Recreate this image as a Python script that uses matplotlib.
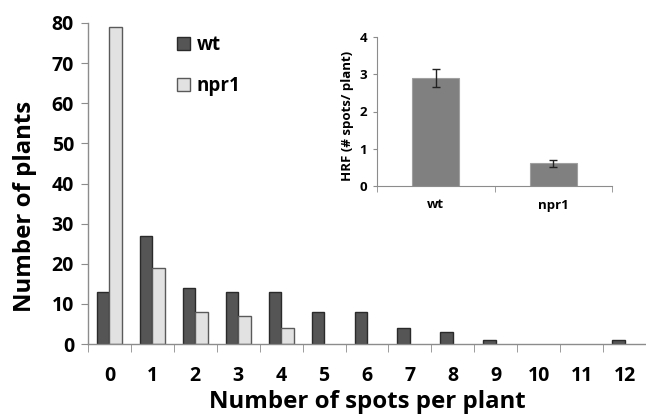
import matplotlib
matplotlib.use("Agg")
import matplotlib.pyplot as plt
import numpy as np
from matplotlib.patches import Patch
from matplotlib.ticker import FixedLocator

plt.rcParams['font.family'] = ['Open Sans', 'DejaVu Sans']
plt.rcParams['font.weight'] = 'bold'

# ---- data ----
spots = ['0', '1', '2', '3', '4', '5', '6', '7', '8', '9', '10', '11', '12']
wt_counts = [13, 27, 14, 13, 13, 8, 8, 4, 3, 1, 0, 0, 1]
npr1_counts = [79, 19, 8, 7, 4, 0, 0, 0, 0, 0, 0, 0, 0]

inset_labels = ['wt', 'npr1']
inset_hrf = [2.9, 0.61]
inset_err = [0.23, 0.1]

series_names = ['wt', 'npr1']

# ---- styles ----
wt_fill, wt_edge = '#555555', '#2a2a2a'
np_fill, np_edge = '#e2e2e2', '#5a5a5a'
spine_c = '#8c8c8c'

fig = plt.figure(figsize=(6.46, 4.17), dpi=100)
ax = fig.add_axes([88/646, 1-344/417, 1-88/646, (344-23)/417])

x = np.arange(len(spots))
w = 0.29
b1 = ax.bar(x - w/2, wt_counts, width=w, color=wt_fill, edgecolor=wt_edge, linewidth=1.0)
b2 = ax.bar(x + w/2, npr1_counts, width=w, color=np_fill, edgecolor=np_edge, linewidth=1.0)
for p in list(b1) + list(b2):
    if p.get_height() == 0:
        p.set_visible(False)

ax.set_xlim(-0.5, len(spots) - 0.5)
ax.set_ylim(0, 80)
ax.set_yticks(np.arange(0, 81, 10))
ax.set_xticks(x)
ax.set_xticklabels(spots)
ax.xaxis.set_minor_locator(FixedLocator(np.arange(-0.5, len(spots), 1.0)))
ax.tick_params(axis='x', which='major', length=0, labelsize=14, pad=16)
ax.tick_params(axis='x', which='minor', length=6, color=spine_c, direction='out')
ax.tick_params(axis='y', length=5, color=spine_c, labelsize=14, pad=5)
for s in ['top', 'right']:
    ax.spines[s].set_visible(False)
for s in ['left', 'bottom']:
    ax.spines[s].set_color(spine_c)
    ax.spines[s].set_linewidth(1.0)
for lab in ax.get_xticklabels() + ax.get_yticklabels():
    lab.set_fontweight('bold')

ax.set_xlabel('Number of spots per plant', fontsize=17.3, fontweight='bold', labelpad=3)
ax.set_ylabel('Number of plants', fontsize=17.3, fontweight='bold')
ax.yaxis.set_label_coords(-0.092, 0.43)

handles = [Patch(facecolor=wt_fill, edgecolor=wt_edge, linewidth=1.0),
           Patch(facecolor=np_fill, edgecolor=np_edge, linewidth=1.0)]
leg = ax.legend(handles, series_names, loc='upper left',
                bbox_to_anchor=((160-88)/558, 1.015), frameon=False,
                prop={'size': 13.5, 'weight': 'bold'},
                handlelength=0.7, handleheight=0.7, handletextpad=0.35,
                labelspacing=1.1)

# ---- inset ----
ins = fig.add_axes([377/646, 1-186/417, (612-377)/646, (186-37)/417])
xi = np.arange(len(inset_labels))
ins.bar(xi, inset_hrf, width=0.4, color='#808080', edgecolor='#a0a0a0', linewidth=0.8,
        yerr=inset_err, capsize=3, error_kw={'elinewidth': 1.0, 'capthick': 1.0, 'ecolor': '#222222'})
ins.set_xlim(-0.5, 1.5)
ins.set_ylim(0, 4)
ins.set_yticks(np.arange(0, 5, 1))
ins.set_xticks(xi)
ins.set_xticklabels(inset_labels)
ins.xaxis.set_minor_locator(FixedLocator([-0.5, 0.5, 1.5]))
ins.tick_params(axis='x', which='major', length=0, labelsize=9.5, pad=9)
ins.tick_params(axis='x', which='minor', length=4, color=spine_c)
ins.tick_params(axis='y', length=3, color=spine_c, labelsize=9.5, pad=4)
for s in ['top', 'right']:
    ins.spines[s].set_visible(False)
for s in ['left', 'bottom']:
    ins.spines[s].set_color(spine_c)
    ins.spines[s].set_linewidth(0.8)
for lab in ins.get_xticklabels() + ins.get_yticklabels():
    lab.set_fontweight('bold')
ins.set_ylabel('HRF (# spots/ plant)', fontsize=9.5, fontweight='bold')
ins.yaxis.set_label_coords(-0.1, 0.47)

fig.savefig('out.png', dpi=100)
